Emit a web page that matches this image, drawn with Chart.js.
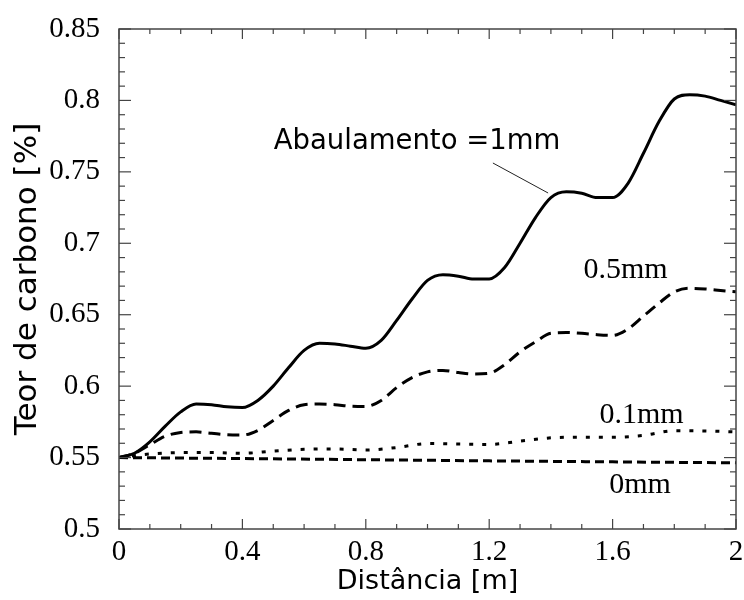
<!DOCTYPE html>
<html>
<head>
<meta charset="utf-8">
<script src="https://cdn.jsdelivr.net/npm/chart.js@4"></script>
<style>
  html, body { margin: 0; padding: 0; background: #fff; }
  canvas { display: block; }
</style>
</head>
<body>
<canvas id="carbonChart" width="744" height="600"></canvas>
<script>
// DATA

const distance = [0, 0.05, 0.1, 0.15, 0.2, 0.25, 0.3, 0.35, 0.4, 0.45, 0.5, 0.55, 0.6, 0.65, 0.7, 0.75,
  0.8, 0.85, 0.9, 0.95, 1.0, 1.05, 1.1, 1.15, 1.2, 1.25, 1.3, 1.35, 1.4, 1.45, 1.5, 1.55,
  1.6, 1.65, 1.7, 1.75, 1.8, 1.85, 1.9, 1.95, 2.0];

const crown1mm = [0.55, 0.553, 0.561, 0.572, 0.582, 0.5875, 0.587, 0.5855, 0.585, 0.590, 0.600, 0.613,
  0.625, 0.630, 0.6295, 0.628, 0.6265, 0.632, 0.646, 0.661, 0.674, 0.678, 0.677, 0.675, 0.675,
  0.683, 0.700, 0.718, 0.732, 0.736, 0.735, 0.732, 0.732, 0.742, 0.763, 0.785, 0.801, 0.804,
  0.803, 0.800, 0.797];

const crown05mm = [0.55, 0.553, 0.559, 0.565, 0.5675, 0.568, 0.567, 0.566, 0.5658, 0.569, 0.576, 0.583,
  0.587, 0.5875, 0.587, 0.586, 0.5858, 0.590, 0.599, 0.606, 0.610, 0.611, 0.6095, 0.6085, 0.609,
  0.615, 0.624, 0.631, 0.637, 0.6375, 0.637, 0.636, 0.6355, 0.640, 0.649, 0.658, 0.666, 0.6685,
  0.668, 0.667, 0.666];

const distanceCoarse = [0, 0.1, 0.2, 0.3, 0.4, 0.5, 0.6, 0.7, 0.8, 0.9, 1.0, 1.1, 1.2, 1.3, 1.4, 1.5,
  1.6, 1.7, 1.8, 1.9, 2.0];

const crown01mm = [0.55, 0.5525, 0.5535, 0.5535, 0.553, 0.5545, 0.5558, 0.556, 0.5553, 0.557, 0.5598,
  0.5595, 0.5592, 0.5615, 0.5638, 0.5643, 0.5642, 0.5655, 0.5688, 0.5686, 0.568];

const distanceFlat = [0, 0.4, 0.8, 1.2, 1.6, 2.0];
const crown0mm = [0.55, 0.5493, 0.5485, 0.5477, 0.547, 0.5463];

const xTickValues = [0, 0.4, 0.8, 1.2, 1.6, 2];
const xTickLabels = ["0", "0.4", "0.8", "1.2", "1.6", "2"];
const yTickValues = [0.5, 0.55, 0.6, 0.65, 0.7, 0.75, 0.8, 0.85];
const yTickLabels = ["0.5", "0.55", "0.6", "0.65", "0.7", "0.75", "0.8", "0.85"];

// HELPERS

function toPoints(xs, ys) {
  return xs.map((x, i) => ({ x: x, y: ys[i] }));
}

function line(ctx, x1, y1, x2, y2) {
  ctx.beginPath();
  ctx.moveTo(x1, y1);
  ctx.lineTo(x2, y2);
  ctx.stroke();
}

// FRAME, INWARD TICKS AND CURVE LABELS

const framePlugin = {
  id: "frame",
  afterDatasetsDraw(chart) {
    const { ctx, chartArea: a, scales: { x, y } } = chart;
    ctx.save();
    ctx.strokeStyle = "#444";
    ctx.lineWidth = 1.5;
    ctx.strokeRect(a.left, a.top, a.width, a.height);

    ctx.lineWidth = 1.2;
    for (let i = 0; i <= 20; i++) {
      const px = x.getPixelForValue(i / 10);
      const len = i % 4 === 0 ? 10 : 5;
      line(ctx, px, a.bottom, px, a.bottom - len);
      line(ctx, px, a.top, px, a.top + len);
    }
    for (let i = 0; i <= 35; i++) {
      const py = y.getPixelForValue(0.5 + i / 100);
      const len = i % 5 === 0 ? 12 : 6;
      line(ctx, a.left, py, a.left + len, py);
      line(ctx, a.right, py, a.right - len, py);
    }

    // leader line to the 1mm curve
    ctx.strokeStyle = "#222";
    ctx.lineWidth = 1;
    line(ctx, x.getPixelForValue(1.212), y.getPixelForValue(0.7562),
      x.getPixelForValue(1.391), y.getPixelForValue(0.7352));

    ctx.fillStyle = "#000";
    ctx.textAlign = "center";
    ctx.textBaseline = "middle";
    ctx.font = "27.5px 'DejaVu Sans'";
    ctx.fillText("Abaulamento =1mm", x.getPixelForValue(0.966), y.getPixelForValue(0.7709));
    ctx.font = "30px 'Liberation Serif'";
    ctx.fillText("0.5mm", x.getPixelForValue(1.642), y.getPixelForValue(0.6813));
    ctx.fillText("0.1mm", x.getPixelForValue(1.694), y.getPixelForValue(0.5798));
    ctx.fillText("0mm", x.getPixelForValue(1.689), y.getPixelForValue(0.5308));
    ctx.restore();
  }
};

// CHART

const curveStyle = {
  borderColor: "#000",
  borderWidth: 3,
  pointRadius: 0,
  fill: false,
  cubicInterpolationMode: "monotone"
};

new Chart(document.getElementById("carbonChart"), {
  type: "line",
  data: {
    datasets: [
      { ...curveStyle, label: "1mm", data: toPoints(distance, crown1mm) },
      { ...curveStyle, label: "0.5mm", data: toPoints(distance, crown05mm), borderDash: [12, 7] },
      { ...curveStyle, label: "0.1mm", data: toPoints(distanceCoarse, crown01mm), borderDash: [4, 9] },
      { ...curveStyle, label: "0mm", data: toPoints(distanceFlat, crown0mm), borderDash: [9, 5] }
    ]
  },
  options: {
    responsive: false,
    animation: false,
    layout: { padding: { left: 0, top: 29, right: 8, bottom: 0 } },
    plugins: { legend: { display: false }, tooltip: { enabled: false } },
    scales: {
      x: {
        type: "linear",
        min: 0,
        max: 2,
        afterBuildTicks: (scale) => { scale.ticks = xTickValues.map(v => ({ value: v })); },
        afterFit: (scale) => {
          scale.height = 71;
          scale.paddingLeft = 0;
          scale.paddingRight = 0;
        },
        grid: { display: false, drawTicks: false },
        border: { display: false },
        ticks: {
          padding: 6,
          color: "#000",
          font: { family: "'Liberation Serif'", size: 29 },
          callback: (v, i) => xTickLabels[i]
        },
        title: {
          display: true,
          text: "Distância [m]",
          color: "#000",
          font: { family: "'DejaVu Sans'", size: 27 },
          padding: { top: 0, bottom: 2 }
        }
      },
      y: {
        type: "linear",
        min: 0.5,
        max: 0.85,
        afterBuildTicks: (scale) => { scale.ticks = yTickValues.map(v => ({ value: v })); },
        afterFit: (scale) => {
          scale.width = 119;
          scale.paddingTop = 0;
          scale.paddingBottom = 0;
        },
        grid: { display: false, drawTicks: false },
        border: { display: false },
        ticks: {
          padding: 19,
          color: "#000",
          font: { family: "'Liberation Serif'", size: 29 },
          callback: (v, i) => yTickLabels[i]
        },
        title: {
          display: true,
          text: "Teor de carbono [%]",
          color: "#000",
          font: { family: "'DejaVu Sans'", size: 31 },
          padding: { top: 9, bottom: 0 }
        }
      }
    }
  },
  plugins: [framePlugin]
});
</script>
</body>
</html>
